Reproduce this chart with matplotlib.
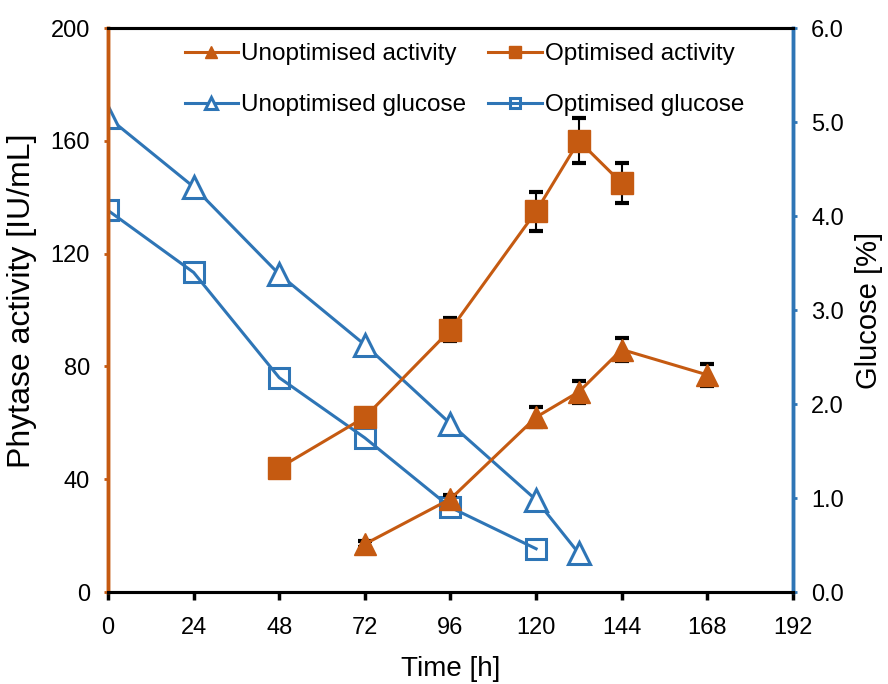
import matplotlib
matplotlib.use("Agg")
import matplotlib.pyplot as plt

# ── Data ────────────────────────────────────────────────────────────────────
unopt_act_t   = [72, 96, 120, 132, 144, 168]
unopt_act     = [17, 33, 62, 71, 86, 77]
unopt_act_err = [1, 1.5, 3.5, 4, 4, 4]

opt_act_t   = [48, 72, 96, 120, 132, 144]
opt_act     = [44, 62, 93, 135, 160, 145]
opt_act_err = [0, 1, 4, 7, 8, 7]

unopt_glc_t = [0, 24, 48, 72, 96, 120, 132]
unopt_glc   = [5.05, 4.31, 3.38, 2.63, 1.79, 0.98, 0.41]

opt_glc_t = [0, 24, 48, 72, 96, 120]
opt_glc   = [4.06, 3.40, 2.28, 1.64, 0.90, 0.46]

x_ticks  = [0, 24, 48, 72, 96, 120, 144, 168, 192]
y1_ticks = [0, 40, 80, 120, 160, 200]
y2_ticks = [0, 1, 2, 3, 4, 5, 6]

ORANGE = "#C55A11"
BLUE   = "#2E75B6"

plt.rcParams["font.family"] = ["Liberation Sans", "DejaVu Sans"]

fig = plt.figure(figsize=(8.88, 6.84), dpi=100)
ax = fig.add_axes([0.1216, 0.1345, 0.7714, 0.8245])
ax2 = ax.twinx()

# activity on left axis
ua = ax.errorbar(unopt_act_t, unopt_act, yerr=unopt_act_err, color=ORANGE, lw=2.2,
                 marker="^", ms=16, mfc=ORANGE, mec=ORANGE, ecolor="black",
                 elinewidth=1.5, capsize=5, capthick=3, zorder=3)
oa = ax.errorbar(opt_act_t, opt_act, yerr=opt_act_err, color=ORANGE, lw=2.2,
                 marker="s", ms=16, mfc=ORANGE, mec=ORANGE, ecolor="black",
                 elinewidth=1.5, capsize=5, capthick=3, zorder=3)

# glucose on right axis
ug, = ax2.plot(unopt_glc_t, unopt_glc, color=BLUE, lw=2.2, marker="^", ms=16,
               mfc="white", mec=BLUE, mew=2.2)
og, = ax2.plot(opt_glc_t, opt_glc, color=BLUE, lw=2.2, marker="s", ms=15,
               mfc="none", mec=BLUE, mew=2.2)

ax.set_xlim(0, 192)
ax.set_ylim(0, 200)
ax2.set_ylim(0, 6)
ax.set_xticks(x_ticks)
ax.set_yticks(y1_ticks)
ax2.set_yticks(y2_ticks)
ax2.set_yticklabels([f"{v:.1f}" for v in y2_ticks])

# activity lines above glucose lines
ax.set_zorder(ax2.get_zorder() + 1)
ax.patch.set_visible(False)

for a in (ax, ax2):
    a.spines["top"].set_color("black")
    a.spines["top"].set_linewidth(2.2)
    a.spines["bottom"].set_color("black")
    a.spines["bottom"].set_linewidth(2.2)
    a.spines["left"].set_color(ORANGE)
    a.spines["left"].set_linewidth(2.5)
    a.spines["right"].set_color(BLUE)
    a.spines["right"].set_linewidth(2.5)

ax.tick_params(axis="x", direction="out", length=6, width=2.5, color="black",
               labelsize=17, pad=12)
ax.tick_params(axis="y", direction="out", length=3, width=2, color=ORANGE,
               labelsize=17, pad=10)
ax2.tick_params(axis="y", direction="out", length=3, width=2, color=BLUE,
                labelsize=17, pad=10)

ax.set_xlabel("Time [h]", fontsize=20, labelpad=12)
ax.set_ylabel("Phytase activity [IU/mL]", fontsize=23)
ax.yaxis.set_label_coords(-0.104, 0.517)
ax2.set_ylabel("Glucose [%]", fontsize=21, labelpad=8)

handles = [ua[0], ug, oa[0], og]
labels = ["Unoptimised activity", "Unoptimised glucose",
          "Optimised activity", "Optimised glucose"]
leg = ax.legend(handles, labels, ncol=2, frameon=False, fontsize=17.5,
                loc="upper left", bbox_to_anchor=(0.080, 1.012),
                handlelength=2.2, handletextpad=0.13, columnspacing=0.9,
                labelspacing=1.2, markerscale=0.5)
leg.set_zorder(1)

fig.savefig("out.png", dpi=100)
